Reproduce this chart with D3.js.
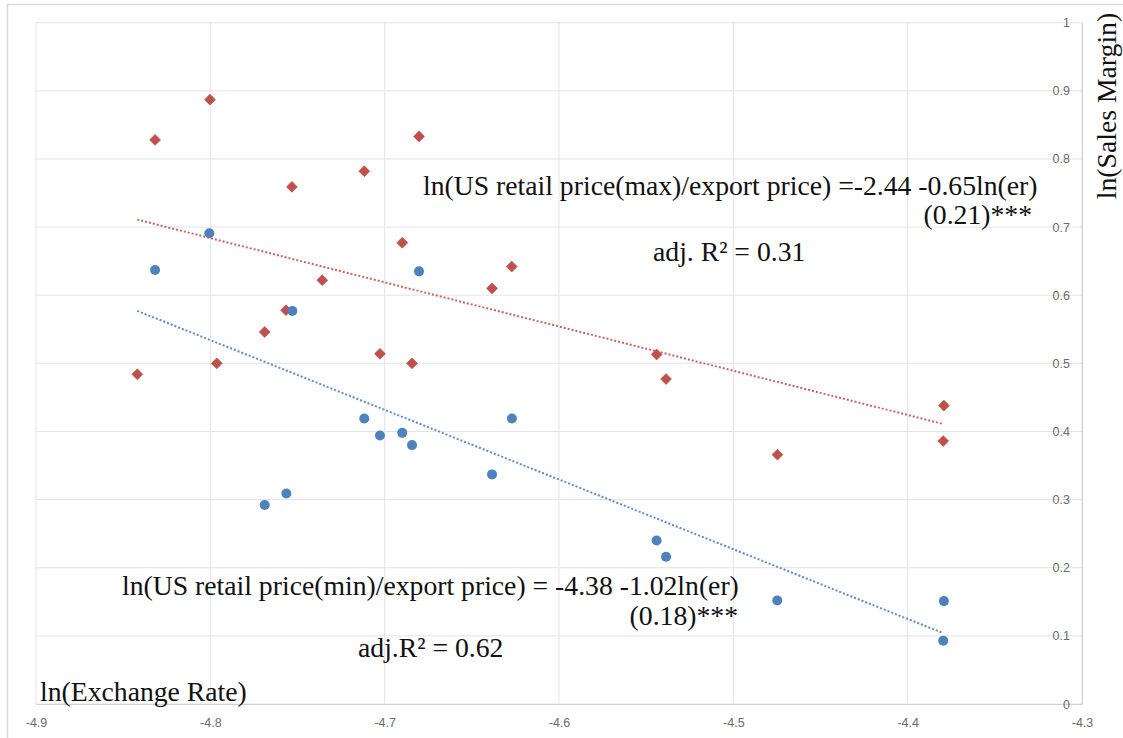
<!DOCTYPE html>
<html>
<head>
<meta charset="utf-8">
<script src="https://cdn.jsdelivr.net/npm/d3@7"></script>
<style>
  body { margin: 0; background: #fff; }
  svg { display: block; }
</style>
</head>
<body>
<div id="chart"></div>
<script>
// Values.
const xTicks = [-4.9, -4.8, -4.7, -4.6, -4.5, -4.4, -4.3];
const yTicks = [0, 0.1, 0.2, 0.3, 0.4, 0.5, 0.6, 0.7, 0.8, 0.9, 1];

// ln(US retail price(max)/export price) – red diamonds
const maxX = [-4.8419, -4.8317, -4.8002, -4.7963, -4.7688, -4.7566, -4.7532, -4.7358, -4.7117, -4.7027,
              -4.6899, -4.6843, -4.6803, -4.6384, -4.6271, -4.5440, -4.5386, -4.4747, -4.3792, -4.3796];
const maxY = [0.484, 0.828, 0.887, 0.500, 0.546, 0.578, 0.759, 0.622, 0.782, 0.514,
              0.677, 0.500, 0.833, 0.610, 0.642, 0.513, 0.477, 0.366, 0.438, 0.386];

// ln(US retail price(min)/export price) – blue circles
const minX = [-4.8317, -4.8006, -4.7688, -4.7564, -4.7530, -4.7117, -4.7027, -4.6899, -4.6843,
              -4.6803, -4.6384, -4.6270, -4.5440, -4.5386, -4.4748, -4.3792, -4.3796];
const minY = [0.637, 0.691, 0.292, 0.309, 0.577, 0.419, 0.394, 0.398, 0.380,
              0.635, 0.337, 0.419, 0.240, 0.216, 0.152, 0.151, 0.093];

// linear trendline ends
const maxTrendX = [-4.8419, -4.3796];
const maxTrendY = [0.711, 0.411];
const minTrendX = [-4.8419, -4.3796];
const minTrendY = [0.577, 0.104];

const xTitle = "ln(Exchange Rate)";
const yTitle = "ln(Sales Margin)";
const eqMax = "ln(US retail price(max)/export price) =-2.44 -0.65ln(er)";
const seMax = "(0.21)***";
const r2Max = "adj. R\u00B2 = 0.31";
const eqMin = "ln(US retail price(min)/export price) = -4.38 -1.02ln(er)";
const seMin = "(0.18)***";
const r2Min = "adj.R\u00B2 = 0.62";

const W = 1123, H = 738;
const red = "#c0504d", blue = "#4f81bd";
const serif = "'Liberation Serif', 'Times New Roman', serif";

const svg = d3.select("#chart").append("svg")
  .attr("width", W)
  .attr("height", H);

// outer frame (left and top edges visible)
svg.append("path")
  .attr("d", `M7.5,${H} V4.5 H${W}`)
  .attr("fill", "none")
  .attr("stroke", "#d9d9d9")
  .attr("stroke-width", 1.5);

const x = d3.scaleLinear().domain([-4.9, -4.3]).range([36, 1082]);
const y = d3.scaleLinear().domain([0, 1]).range([704, 22.7]);

// gridlines
svg.append("g")
  .selectAll("line")
  .data(yTicks)
  .join("line")
    .attr("x1", x(-4.9)).attr("x2", x(-4.3))
    .attr("y1", d => y(d)).attr("y2", d => y(d))
    .attr("stroke", "#e3e3e3");

svg.append("g")
  .selectAll("line")
  .data(xTicks)
  .join("line")
    .attr("x1", d => x(d)).attr("x2", d => x(d))
    .attr("y1", y(0)).attr("y2", y(1))
    .attr("stroke", "#e3e3e3");

const fmt = d => String(+d.toFixed(1));

// x axis along the bottom
const xAxis = svg.append("g")
  .attr("transform", `translate(0,${y(0)})`)
  .call(d3.axisBottom(x).tickValues(xTicks).tickSize(0).tickPadding(14).tickFormat(fmt));

// y axis on the right, labels drawn inside
const yAxis = svg.append("g")
  .attr("transform", `translate(${x(-4.3)},0)`)
  .call(d3.axisLeft(y).tickValues(yTicks).tickSize(0).tickPadding(12).tickFormat(fmt));

[xAxis, yAxis].forEach(g => {
  g.select(".domain").attr("stroke", "#d0d0d0");
  g.selectAll("text")
    .attr("fill", "#6b6b6b")
    .style("font-family", "'Liberation Sans', Arial, sans-serif")
    .style("font-size", "12.5px");
});

// trendlines
const line = d3.line().x(d => x(d[0])).y(d => y(d[1]));

svg.append("path")
  .datum(d3.zip(maxTrendX, maxTrendY))
  .attr("fill", "none")
  .attr("stroke", "#d0615e")
  .attr("stroke-width", 2)
  .attr("stroke-dasharray", "2 2")
  .attr("d", line);

svg.append("path")
  .datum(d3.zip(minTrendX, minTrendY))
  .attr("fill", "none")
  .attr("stroke", "#5b8ccb")
  .attr("stroke-width", 2)
  .attr("stroke-dasharray", "2 2")
  .attr("d", line);

// points
const diamond = d3.symbol().type(d3.symbolDiamond2).size(74);

svg.append("g")
  .selectAll("path")
  .data(d3.zip(maxX, maxY))
  .join("path")
    .attr("transform", d => `translate(${x(d[0])},${y(d[1])})`)
    .attr("d", diamond)
    .attr("fill", red)
    .attr("stroke", red)
    .attr("stroke-width", 0.8)
    .attr("stroke-linejoin", "round");

svg.append("g")
  .selectAll("circle")
  .data(d3.zip(minX, minY))
  .join("circle")
    .attr("cx", d => x(d[0]))
    .attr("cy", d => y(d[1]))
    .attr("r", 5)
    .attr("fill", blue);

// annotations
function note(txt, px, py, anchor) {
  return svg.append("text")
    .attr("x", px)
    .attr("y", py)
    .attr("text-anchor", anchor || "start")
    .attr("fill", "#111")
    .style("font-family", serif)
    .style("font-size", "27.7px")
    .text(txt);
}

note(eqMax, 423, 195);
note(seMax, 1032, 224, "end");
note(r2Max, 653, 261);
note(eqMin, 122, 595);
note(seMin, 738, 625, "end");
note(r2Min, 358, 657);
note(xTitle, 40, 701);

svg.append("text")
  .attr("transform", `translate(1116,106) rotate(-90)`)
  .attr("text-anchor", "middle")
  .attr("fill", "#111")
  .style("font-family", serif)
  .style("font-size", "27.7px")
  .text(yTitle);
</script>
</body>
</html>
